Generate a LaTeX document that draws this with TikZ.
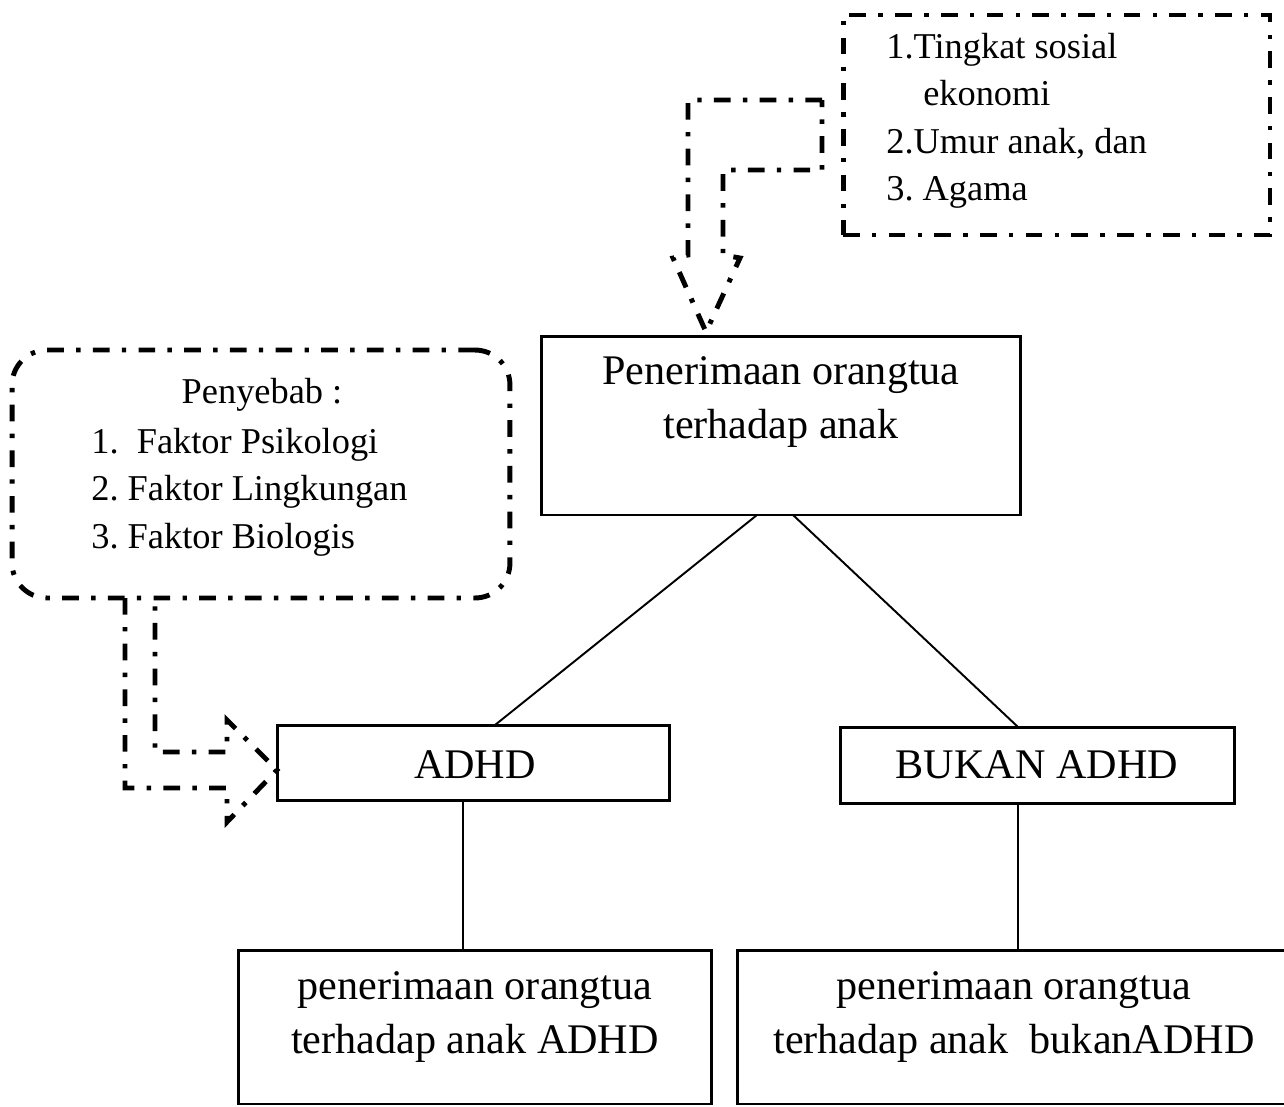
\documentclass[tikz,border=0pt]{standalone}
\usepackage{fontspec}
\setmainfont{Liberation Serif}
\frenchspacing
\begin{document}
\begin{tikzpicture}[x=0.02cm,y=-0.02cm,
  box/.style={draw, line width=1.7pt, inner sep=0pt, outer sep=0pt},
  dd/.style={draw, line width=2.8pt, dash pattern=on 9.5pt off 7pt on 2.5pt off 7pt},
  big/.style={font=\fontsize{24}{31}\selectfont, inner sep=0pt},
  small/.style={font=\fontsize{20.7}{27}\selectfont, inner sep=0pt},
  conn/.style={line width=1.1pt}]
\useasboundingbox (0,0) rectangle (1284,1106);
% boxes
\node[box, minimum width=9.6cm, minimum height=3.58cm] (main) at (781,425.5) {};
\node[big, align=center] (maintxt) at (781,402) {Penerimaan orangtua\\terhadap anak};
\node[box, minimum width=7.86cm, minimum height=1.5cm] (adhd) at (473.5,762.5) {};
\node[big] (adhdtxt) at (475,765) {ADHD};
\node[box, minimum width=7.9cm, minimum height=1.52cm] (bukan) at (1037.5,765) {};
\node[big] (bukantxt) at (1037,765) {BUKAN ADHD};
\node[box, minimum width=9.48cm, minimum height=3.08cm] (bl) at (475,1027) {};
\node[big, align=center] (bltxt) at (475,1017) {penerimaan orangtua\\terhadap anak ADHD};
\node[box, minimum width=11.06cm, minimum height=3.08cm] (br) at (1013.5,1027) {};
\node[big, align=center] (brtxt) at (1014,1017) {penerimaan orangtua\\terhadap anak\ \ bukanADHD};
% dash-dot boxes
\node[dd, inner sep=0pt, minimum width=8.54cm, minimum height=4.4cm] (faktor) at (1056.5,125) {};
\node[small, align=left, anchor=west] (faktortxt) at (886,121) {1.Tingkat sosial\\\hspace*{21pt}ekonomi\\2.Umur anak, dan\\3. Agama};
\node[dd, inner sep=0pt, rounded corners=0.7cm, minimum width=9.96cm, minimum height=4.96cm] (sebab) at (261,474) {};
\node[small] (sebabtitle) at (262,395) {Penyebab :};
\node[small, align=left, anchor=west] (sebabtxt) at (91,492) {1.\ \ Faktor Psikologi\\2. Faktor Lingkungan\\3. Faktor Biologis};
% connectors
\draw[conn] ([xshift=-0.48cm]main.south) -- ([xshift=0.43cm]adhd.north);
\draw[conn] ([xshift=0.24cm]main.south) -- ([xshift=-0.39cm]bukan.north);
\draw[conn] ([xshift=-0.21cm]adhd.south) coordinate (a1) -- (a1 |- bl.north);
\draw[conn] ([xshift=-0.39cm]bukan.south) coordinate (b1) -- (b1 |- br.north);
% block arrows
\draw[dd, line join=miter] (822,100) -- (688,100) -- (688,255) -- (673,258) -- (706,332) -- (740,258) -- (723,255) -- (723,170) -- (822,170) -- cycle;
\draw[dd, line join=miter] (125,598) -- (125,788) -- (227,788) -- (227,822) -- (277,770) -- (227,720) -- (227,752) -- (155,752) -- (155,598);
\end{tikzpicture}
\end{document}
